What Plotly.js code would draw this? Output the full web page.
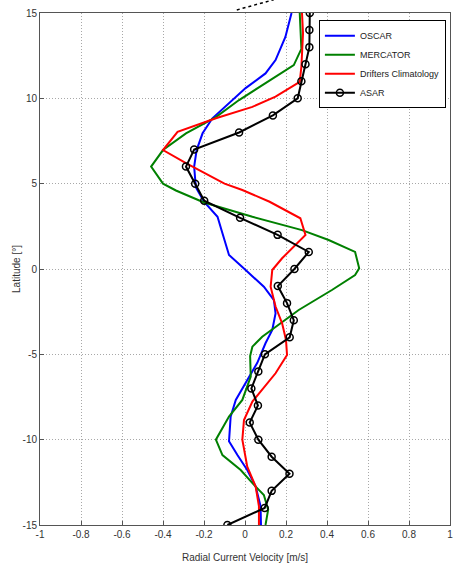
<!DOCTYPE html>
<html>
<head>
<meta charset="utf-8">
<script src="https://cdn.plot.ly/plotly-3.0.1.min.js"></script>
<style>html,body{margin:0;padding:0;background:#fff;}#chart{width:455px;height:566px;}</style>
</head>
<body>
<div id="chart"></div>
<script>
// OSCAR
const oscarLat = [15, 13.6, 12.24, 11.46, 10.6, 9.7, 8.83, 7.95, 6.97, 6.0, 4.8, 3.94, 3.06, 2.09, 0.82, -0.06, -1.04, -1.82, -2.6, -3.57, -4.35, -5.5, -6.7, -7.67, -8.65, -10.1, -10.9, -11.78, -12.75, -13.9, -15];
const oscarVel = [0.227, 0.197, 0.149, 0.10, 0.003, -0.078, -0.159, -0.207, -0.236, -0.248, -0.24, -0.20, -0.134, -0.11, -0.078, 0.003, 0.092, 0.141, 0.149, 0.133, 0.10, 0.06, 0.003, -0.045, -0.07, -0.078, -0.037, 0.011, 0.052, 0.076, 0.078];
// MERCATOR
const mercLat = [15, 12.9, 11.95, 10.9, 9.9, 8.9, 7.95, 6.97, 6.0, 5.0, 4.6, 3.9, 3.06, 2.28, 1.7, 1.0, 0.04, -0.35, -1.23, -2.4, -3.38, -3.97, -4.55, -5.1, -6.3, -7.67, -8.65, -10.0, -10.9, -11.78, -12.65, -13.24, -14.1, -15];
const mercVel = [0.267, 0.275, 0.238, 0.10, -0.029, -0.142, -0.288, -0.40, -0.458, -0.40, -0.337, -0.20, 0.036, 0.278, 0.408, 0.537, 0.557, 0.537, 0.424, 0.262, 0.149, 0.084, 0.036, 0.025, 0.028, -0.013, -0.078, -0.142, -0.11, -0.021, 0.044, 0.092, 0.113, 0.10];
// Drifters Climatology
const drifLat = [15, 13.8, 11.85, 10.97, 10.1, 9.5, 8.83, 8.04, 6.97, 6.2, 5.0, 4.63, 3.94, 2.97, 1.99, 1.3, 0.63, -0.06, -1.04, -2.2, -3.18, -4.16, -5.04, -6.11, -7.09, -7.77, -8.85, -10.0, -11.58, -12.75, -13.9, -15];
const drifVel = [0.278, 0.283, 0.275, 0.267, 0.149, 0.036, -0.142, -0.329, -0.40, -0.288, -0.10, -0.013, 0.12, 0.27, 0.295, 0.238, 0.181, 0.133, 0.125, 0.149, 0.181, 0.20, 0.205, 0.149, 0.084, 0.036, -0.005, -0.013, 0.011, 0.052, 0.068, 0.068];
// ASAR
const asarLat = [15, 14, 13, 12, 11, 10, 9, 8, 7, 6, 5, 4, 3, 2, 1, 0, -1, -2, -3, -4, -5, -6, -7, -8, -9, -10, -11, -12, -13, -14, -15];
const asarVel = [0.316, 0.314, 0.314, 0.295, 0.275, 0.257, 0.136, -0.029, -0.248, -0.288, -0.243, -0.199, -0.024, 0.159, 0.311, 0.241, 0.160, 0.205, 0.238, 0.218, 0.097, 0.065, 0.031, 0.063, 0.023, 0.065, 0.13, 0.217, 0.13, 0.096, -0.086];

const xTickVals = [-1, -0.8, -0.6, -0.4, -0.2, 0, 0.2, 0.4, 0.6, 0.8, 1];
const xTickText = ['-1', '-0.8', '-0.6', '-0.4', '-0.2', '0', '0.2', '0.4', '0.6', '0.8', '1'];
const yTickVals = [-15, -10, -5, 0, 5, 10, 15];
const yTickText = ['-15', '-10', '-5', '0', '5', '10', '15'];

const traces = [
  {x: oscarVel, y: oscarLat, name: 'OSCAR', mode: 'lines', line: {color: '#0000ff', width: 2}},
  {x: mercVel, y: mercLat, name: 'MERCATOR', mode: 'lines', line: {color: '#008000', width: 2}},
  {x: drifVel, y: drifLat, name: 'Drifters Climatology', mode: 'lines', line: {color: '#ff0000', width: 2}},
  {x: asarVel, y: asarLat, name: 'ASAR', mode: 'lines+markers', line: {color: '#000000', width: 2},
   marker: {symbol: 'circle-open', size: 7, color: '#000000', line: {width: 1.5, color: '#000000'}}}
];

const axisCommon = {
  showgrid: true, gridcolor: '#a8a8a8', griddash: '1px,2px', gridwidth: 1,
  showline: true, mirror: true, linecolor: '#555', linewidth: 1,
  ticks: 'inside', ticklen: 4, tickcolor: '#555', ticklabeloverflow: 'allow',
  zeroline: false, tickfont: {family: 'Arial, Liberation Sans, sans-serif', size: 10, color: '#333'},
  fixedrange: true
};

const layout = {
  width: 455, height: 566,
  margin: {l: 40, r: 5, t: 13, b: 41},
  paper_bgcolor: '#ffffff', plot_bgcolor: '#ffffff',
  font: {family: 'Arial, Liberation Sans, sans-serif', size: 10, color: '#333'},
  xaxis: Object.assign({}, axisCommon, {range: [-1, 1], tickvals: xTickVals, ticktext: xTickText,
    title: {text: 'Radial Current Velocity [m/s]', font: {size: 10, color: '#333'}, standoff: 14}}),
  yaxis: Object.assign({}, axisCommon, {range: [-15, 15], tickvals: yTickVals, ticktext: yTickText,
    title: {text: 'Latitude [°]', font: {size: 10, color: '#333'}, standoff: 0}}),
  showlegend: true,
  legend: {x: 0.99, y: 0.986, xanchor: 'right', yanchor: 'top', bgcolor: '#ffffff',
    bordercolor: '#000', borderwidth: 1, font: {size: 9, color: '#222'}, tracegroupgap: 0},
  shapes: [
    {type: 'line', xref: 'x', yref: 'paper', x0: -0.04, x1: 0.14, y0: 1.006, y1: 1.026,
     line: {color: '#000', width: 1.5, dash: 'dot'}}
  ]
};

Plotly.newPlot('chart', traces, layout, {displayModeBar: false, staticPlot: true});
</script>
</body>
</html>
